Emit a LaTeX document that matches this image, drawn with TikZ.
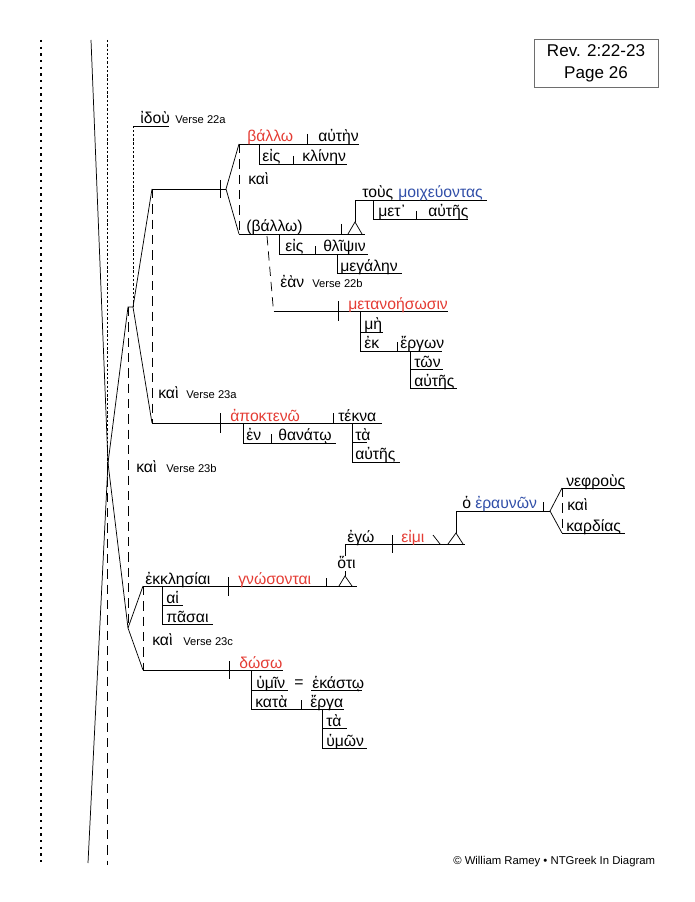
\documentclass[tikz,border=0pt]{standalone}
\usepackage{fontspec}
\setmainfont{Liberation Sans}
\newfontfamily\grk{Liberation Sans}
\usetikzlibrary{positioning}
\definecolor{wred}{RGB}{228,60,52}
\definecolor{wblue}{RGB}{48,78,168}
\definecolor{boxgray}{RGB}{110,110,110}

\begin{document}
\begin{tikzpicture}
[x=0.75pt,y=-0.75pt,
word/.style={anchor=base west,inner sep=0pt,font=\grk\fontsize{11.8}{13}\selectfont},
verb/.style={word,text=wred},
part/.style={word,text=wblue},
tag/.style={anchor=base west,inner sep=0pt,font=\fontsize{8.4}{10}\selectfont},
base/.style={line width=0.55pt},
conj/.style={base,dash pattern=on 7pt off 4.5pt},
fine/.style={base,dash pattern=on 1.8pt off 1.4pt},
edge/.style={line width=1.8pt,dash pattern=on 1.8pt off 3.2pt},
pedestal/.style={base}]

\useasboundingbox (0,0) rectangle (694,902);

\node (ref) [draw=boxgray,line width=0.6pt,minimum width=93pt,minimum height=36pt,
  align=center,inner sep=0pt,font=\fontsize{12.8}{16.5}\selectfont] at (596,63)
  {Rev. 2:22-23\\Page 26};
\node (copy) [tag,font=\fontsize{8.5}{10}\selectfont] at (453,864)
  {© William Ramey • NTGreek In Diagram};

% page edge and carried lines
\coordinate (e1) at (40.7,40);
\coordinate (e2) at (40.7,865);
\draw[edge] (e1) -- (e2);
\coordinate (top) at (91,40);
\coordinate (bot) at (88,863);
\coordinate (c) at (108,463);
\coordinate (dt) at (107,40);
\coordinate (dm) at (107,462);
\coordinate (db) at (107,865);
\draw[base] (top) -- (c) -- (bot);
\draw[fine] (dt) -- (dm);
\draw[conj] (dm) -- (db);

\coordinate (b) at (128,307);
\coordinate (a) at (133,307);
\coordinate (d) at (128,628);
\draw[base] (a) -- (b) -- (c) -- (d);
\draw[conj] (b) -- (d);

% ἰδοὺ
\coordinate (i1) at (133,126);
\coordinate (i2) at (169,126);
\draw[fine] (a) -- (i1);
\draw[base] (i1) -- (i2);
\node (idou) [word] at (140,124) {ἰδοὺ};
\node (v22a) [tag] at (175,124) {Verse 22a};

% Verse 22a
\coordinate (s22) at (152,189);
\coordinate (s23) at (152,423);
\coordinate (f22) at (226,189);
\draw[base] (s22) -- (a) -- (s23);
\draw[conj] (s22) -- (s23);
\draw[base] (s22) -- (f22);
\draw[base] (220,180) -- (220,198);
\coordinate (p1) at (239,144);
\coordinate (p2) at (239,234);
\draw[base] (p1) -- (f22) -- (p2);
\draw[conj] (p1) -- (p2);
\node (kai1) [word] at (248,185) {καὶ};

\coordinate (p1e) at (359,144);
\draw[base] (p1) -- (p1e);
\draw[base] (307,134) -- (307,144);
\node (ballo1) [verb] at (247,142) {βάλλω};
\node (auten) [word] at (318,142) {αὐτὴν};
\coordinate (eis1a) at (259,144);
\coordinate (eis1b) at (259,164);
\coordinate (eis1c) at (347,164);
\draw[base] (eis1a) -- (eis1b) -- (eis1c);
\draw[base] (293,156) -- (293,164);
\node (eis1) [word] at (262,162) {εἰς};
\node (kline) [word] at (302,162) {κλίνην};

\coordinate (p2e) at (365,234);
\draw[base] (p2) -- (p2e);
\draw[base] (341,224) -- (341,234);
\node (ballo2) [word] at (246,232) {(βάλλω)};
\coordinate (pa) at (355,222);
\draw[pedestal] (348,234) -- (pa) -- (362,234);
\coordinate (m1) at (355,200);
\coordinate (m2) at (487,200);
\draw[base] (pa) -- (m1) -- (m2);
\node (tous) [word] at (362,198) {τοὺς};
\node (moix) [part] at (398,198) {μοιχεύοντας};
\coordinate (met1) at (373,200);
\coordinate (met2) at (373,219);
\coordinate (met3) at (468,219);
\draw[base] (met1) -- (met2) -- (met3);
\draw[base] (416,211) -- (416,219);
\node (met) [word] at (378,217) {μετ᾽};
\node (autes1) [word] at (428,217) {αὐτῆς};

\coordinate (eis2a) at (279,234);
\coordinate (eis2b) at (279,254);
\coordinate (eis2c) at (368,254);
\draw[base] (eis2a) -- (eis2b) -- (eis2c);
\draw[base] (315,246) -- (315,254);
\node (eis2) [word] at (285,252) {εἰς};
\node (thlip) [word] at (323,252) {θλῖψιν};
\coordinate (meg1) at (337,254);
\coordinate (meg2) at (337,273);
\coordinate (meg3) at (402,273);
\draw[base] (meg1) -- (meg2) -- (meg3);
\node (megal) [word] at (340,271) {μεγάλην};

% ἐὰν
\coordinate (ean1) at (267,236);
\coordinate (ean2) at (273.5,311);
\draw[conj] (ean1) -- (ean2);
\node (ean) [word] at (280,287) {ἐὰν};
\node (v22b) [tag] at (312,287) {Verse 22b};
\coordinate (ean3) at (448,311);
\draw[base] (ean2) -- (ean3);
\draw[base] (338,301) -- (338,321);
\node (metan) [verb] at (348,309) {μετανοήσωσιν};
\coordinate (me1) at (360,311);
\coordinate (me2) at (360,351);
\coordinate (me3) at (442,351);
\coordinate (me4) at (360,332);
\coordinate (me5) at (383,332);
\draw[base] (me1) -- (me2) -- (me3);
\draw[base] (me4) -- (me5);
\draw[base] (397,342) -- (397,351);
\node (me) [word] at (364,329) {μὴ};
\node (ek1) [word] at (364,348) {ἐκ};
\node (ergon) [word] at (400,348) {ἔργων};
\coordinate (to1) at (410,351);
\coordinate (to2) at (410,388);
\coordinate (to3) at (457,388);
\coordinate (to4) at (410,369);
\coordinate (to5) at (443,369);
\draw[base] (to1) -- (to2) -- (to3);
\draw[base] (to4) -- (to5);
\node (ton) [word] at (414,367) {τῶν};
\node (autes2) [word] at (414,386) {αὐτῆς};

% Verse 23a
\node (kai2) [word] at (158,398) {καὶ};
\node (v23a) [tag] at (186,398) {Verse 23a};
\coordinate (s23e) at (382,423);
\draw[base] (s23) -- (s23e);
\draw[base] (220,413) -- (220,433);
\draw[base] (333,413) -- (333,423);
\node (apok) [verb] at (230,421) {ἀποκτενῶ};
\node (tekna) [word] at (338,421) {τέκνα};
\coordinate (en1) at (243,423);
\coordinate (en2) at (243,443);
\coordinate (en3) at (336,443);
\draw[base] (en1) -- (en2) -- (en3);
\draw[base] (271,434) -- (271,443);
\node (en) [word] at (246,440) {ἐν};
\node (thanat) [word] at (278,440) {θανάτῳ};
\coordinate (ta1) at (352,423);
\coordinate (ta2) at (352,462);
\coordinate (ta3) at (400,462);
\coordinate (ta4) at (352,442);
\coordinate (ta5) at (367,442);
\draw[base] (ta1) -- (ta2) -- (ta3);
\draw[base] (ta4) -- (ta5);
\node (ta) [word] at (355,440) {τὰ};
\node (autes3) [word] at (355,459) {αὐτῆς};

% Verse 23b
\node (kai3) [word] at (136,472) {καὶ};
\node (v23b) [tag] at (166,472) {Verse 23b};
\coordinate (s23b) at (143,586);
\coordinate (s23c) at (143,670);
\draw[base] (s23b) -- (d) -- (s23c);
\draw[conj] (s23b) -- (s23c);
\coordinate (s23be) at (357,586);
\draw[base] (s23b) -- (s23be);
\draw[base] (228,577) -- (228,596);
\draw[base] (326,578) -- (326,586);
\node (ekkl) [word] at (145,584) {ἐκκλησίαι};
\node (gnos) [verb] at (238,584) {γνώσονται};
\coordinate (ai1) at (162,586);
\coordinate (ai2) at (162,624);
\coordinate (ai3) at (213,624);
\coordinate (ai4) at (162,605);
\coordinate (ai5) at (183,605);
\draw[base] (ai1) -- (ai2) -- (ai3);
\draw[base] (ai4) -- (ai5);
\node (ai) [word] at (166,603) {αἱ};
\node (pasai) [word] at (166,622) {πᾶσαι};

\coordinate (pb) at (345,576);
\draw[pedestal] (339,586) -- (pb) -- (352,586);
\node (hoti) [word] at (337,568) {ὅτι};
\coordinate (eg1) at (345,544);
\coordinate (eg2) at (465,544);
\draw[base] (pb) -- (345,571);
\draw[base] (345,556) -- (eg1);
\draw[base] (eg1) -- (eg2);
\draw[base] (392,535) -- (392,553);
\draw[base] (433,535) -- (440,544);
\node (ego) [word] at (347,542) {ἐγώ};
\node (eimi) [verb] at (401,542) {εἰμι};
\coordinate (pc) at (456,533);
\draw[pedestal] (448,544) -- (pc) -- (463,544);
\coordinate (er1) at (456,511);
\coordinate (er2) at (550,511);
\draw[base] (pc) -- (er1) -- (er2);
\draw[base] (543,502) -- (543,511);
\node (ho) [word] at (462,508) {ὁ};
\node (eraun) [part] at (475,508) {ἐραυνῶν};
\coordinate (ne1) at (562,488);
\coordinate (ne2) at (562,533);
\coordinate (ne1e) at (625,488);
\coordinate (ne2e) at (625,533);
\draw[base] (ne1) -- (er2) -- (ne2);
\draw[conj] (ne1) -- (ne2);
\draw[base] (ne1) -- (ne1e);
\draw[base] (ne2) -- (ne2e);
\node (nefr) [word] at (566,486) {νεφροὺς};
\node (kai4) [word] at (567,510) {καὶ};
\node (kard) [word] at (566,531) {καρδίας};

% Verse 23c
\node (kai5) [word] at (152,645) {καὶ};
\node (v23c) [tag] at (183,645) {Verse 23c};
\coordinate (s23ce) at (283,670);
\draw[base] (s23c) -- (s23ce);
\draw[base] (229,661) -- (229,679);
\node (doso) [verb] at (239,668) {δώσω};
\coordinate (hy1) at (251,670);
\coordinate (hy2) at (251,709);
\coordinate (hy3) at (344,709);
\coordinate (hy4) at (251,690);
\coordinate (hy5) at (288,690);
\coordinate (hy6) at (311,690);
\coordinate (hy7) at (362,690);
\draw[base] (hy1) -- (hy2) -- (hy3);
\draw[base] (hy4) -- (hy5);
\draw[base] (hy6) -- (hy7);
\draw[base] (301,700) -- (301,709);
\node (hymin) [word] at (256,688) {ὑμῖν};
\node (eq) [word] at (294,687) {=};
\node (hekast) [word] at (312,688) {ἑκάστῳ};
\node (kata) [word] at (255,707) {κατὰ};
\node (erga) [word] at (310,707) {ἔργα};
\coordinate (hu1) at (322,709);
\coordinate (hu2) at (322,748);
\coordinate (hu3) at (367,748);
\coordinate (hu4) at (322,728);
\coordinate (hu5) at (347,728);
\draw[base] (hu1) -- (hu2) -- (hu3);
\draw[base] (hu4) -- (hu5);
\node (ta2n) [word] at (326,726) {τὰ};
\node (hymon) [word] at (326,746) {ὑμῶν};

\end{tikzpicture}
\end{document}
